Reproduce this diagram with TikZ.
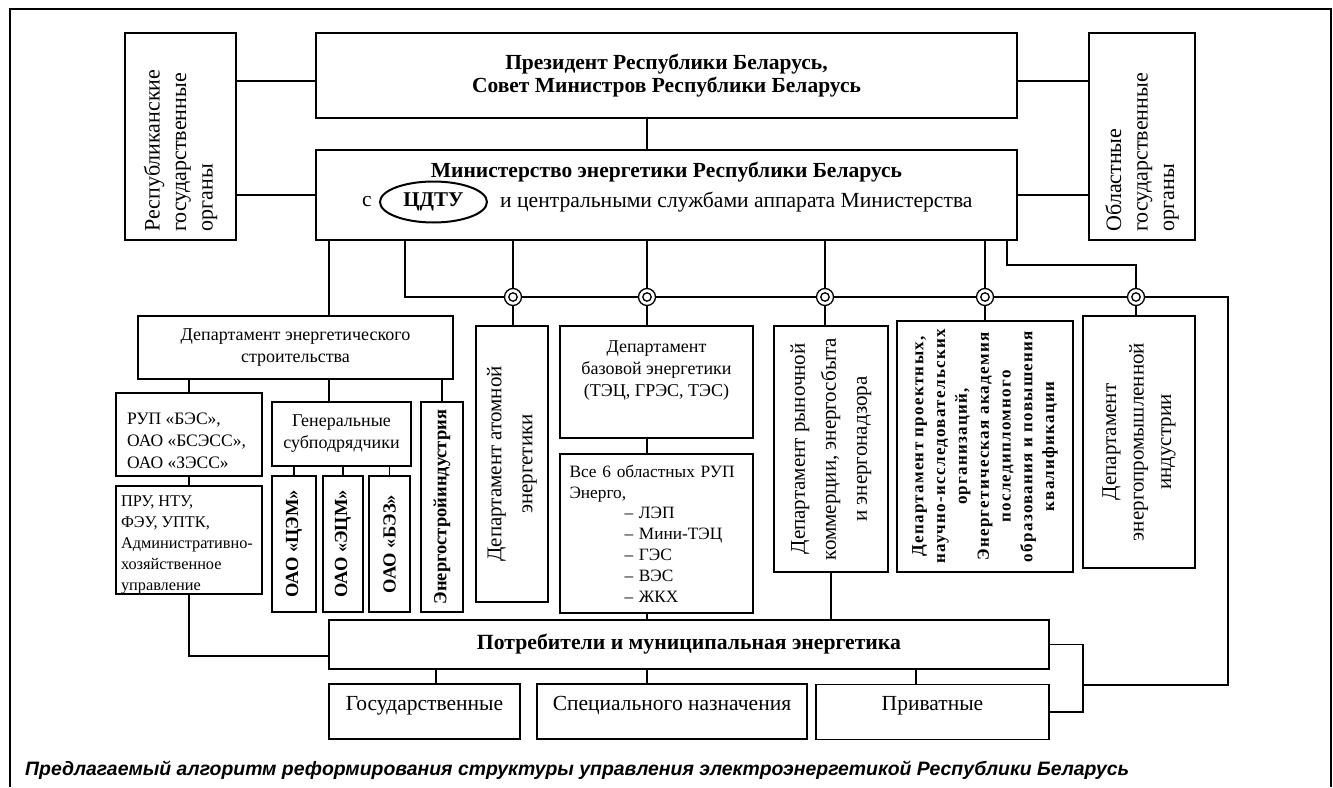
\documentclass[tikz,border=0pt]{standalone}
\usepackage{fontspec}
\setmainfont{Liberation Serif}
\newfontfamily\capfont{Liberation Sans}
\usetikzlibrary{positioning, shapes.geometric}

\begin{document}
\begin{tikzpicture}[
    x=1pt, y=-1pt,
    box/.style={rectangle, draw, line width=1.1pt, inner sep=0pt, align=center, font=\fontsize{18}{22}\selectfont},
    vbox/.style={box, rotate=90, font=\fontsize{21}{31}\selectfont},
    bvbox/.style={box, rotate=90, font=\fontsize{18.5}{22}\selectfont\bfseries},
    joint/.style={circle, draw, line width=1.3pt, fill=white, inner sep=0pt, minimum size=17pt,
      path picture={\draw[line width=1.3pt] (path picture bounding box.center) circle (4.2pt);}},
    line/.style={line width=1.1pt}
  ]
    \useasboundingbox (0,0) rectangle (1333,787);
    \draw[line] (10,787) -- (10,9) -- (1331,9) -- (1331,787);

    % Top level
    \node[box, minimum width=701, minimum height=85, font=\fontsize{21.5}{23.5}\selectfont\bfseries] (pres) at (666.5,75.5) {Президент Республики Беларусь,\\Совет Министров Республики Беларусь};
    \node[vbox, minimum width=207, minimum height=111, text width=190, align=left, font=\fontsize{22}{26.5}\selectfont] (respub) at (180.5,136.5) {Республиканские\\государственные\\органы};
    \node[vbox, minimum width=207, minimum height=106, text width=190, align=left, font=\fontsize{22}{26.5}\selectfont] (oblorg) at (1142,136.5) {Областные\\государственные\\органы};

    % Ministry
    \node[box, minimum width=701, minimum height=90, text height=14pt, text depth=50pt, font=\fontsize{21.5}{24}\selectfont\bfseries] (ministry) at (666.5,195) {Министерство энергетики Республики Беларусь};
    \node[inner sep=0pt, font=\fontsize{21.5}{24}\selectfont] (withc) at (367,202) {с};
    \node[ellipse, draw, line width=2pt, minimum width=107, minimum height=41, inner sep=0pt, right=7pt of withc, font=\fontsize{21}{24}\selectfont\bfseries] (cdtu) {ЦДТУ};
    \node[inner sep=0pt, right=12pt of cdtu, font=\fontsize{21.6}{24}\selectfont] (services) {и центральными службами аппарата Министерства};

    % Bus
    \coordinate (busL) at (405,297);
    \coordinate (busR) at (1228,297);
    \coordinate (elbow) at (1007,265);
    \coordinate (stem) at (329,316);
    \coordinate (tie) at (1083,685);
    \node[joint] (j1) at (513,297) {};
    \node[joint] (j2) at (647,297) {};
    \node[joint] (j3) at (825,297) {};
    \node[joint] (j4) at (985,297) {};
    \node[joint] (j5) at (1136,297) {};

    % Construction branch
    \node[box, minimum width=315, minimum height=63] (dec) at (295.5,347.5) {Департамент энергетического\\строительства};
    \node[box, minimum width=146, minimum height=83, font=\fontsize{17.5}{22}\selectfont] (rup) at (189,434.5) {\parbox[c][83pt][c]{124pt}{\raggedright\vspace{12pt}РУП «БЭС»,\\ОАО «БСЭСС»,\\ОАО «ЗЭСС»}};
    \node[box, minimum width=146, minimum height=108, font=\fontsize{16.3}{21}\selectfont] (pru) at (189,540) {\parbox[c][108pt][c]{136pt}{\raggedright\vspace{10pt}ПРУ, НТУ,\\ФЭУ, УПТК,\\Административно-\\хозяйственное\\управление}};
    \node[box, minimum width=139, minimum height=64] (gen) at (341.5,434) {Генеральные\\субподрядчики};
    \node[bvbox, minimum width=136, minimum height=44] (cem) at (294,544) {ОАО «ЦЭМ»};
    \node[bvbox, minimum width=136, minimum height=40] (ecm) at (343,544) {ОАО «ЭЦМ»};
    \node[bvbox, minimum width=136, minimum height=41] (bez) at (389.5,544) {ОАО «БЭЗ»};
    \node[bvbox, minimum width=210, minimum height=42] (esi) at (442,507) {Энергостройиндустрия};

    % Departments
    \node[vbox, minimum width=276, minimum height=72] (atom) at (512,464) {Департамент атомной\\энергетики};
    \node[box, minimum width=193, minimum height=112] (base) at (656.5,382) {\parbox[c][112pt][t]{193pt}{\centering\vspace{15pt}Департамент\\базовой энергетики\\(ТЭЦ, ГРЭС, ТЭС)}};
    \node[box, minimum width=193, minimum height=159, text width=174, align=left, font=\fontsize{17.3}{20.8}\selectfont] (oblast) at (656.5,533.5) {Все 6 областных РУП\\Энерго,\\\hspace*{55pt}– ЛЭП\\\hspace*{55pt}– Мини-ТЭЦ\\\hspace*{55pt}– ГЭС\\\hspace*{55pt}– ВЭС\\\hspace*{55pt}– ЖКХ};
    \node[vbox, minimum width=246, minimum height=114] (market) at (831,449) {Департамент рыночной\\коммерции, энергосбыта\\и энергонадзора};
    \node[bvbox, minimum width=251, minimum height=176, font=\fontsize{17}{21.8}\selectfont\bfseries\addfontfeatures{LetterSpace=7.5}] (proj) at (985,446.5) {Департамент проектных,\\научно-исследовательских\\организаций,\\Энергетическая академия\\последипломного\\образования и повышения\\квалификации};
    \node[vbox, minimum width=252, minimum height=112, font=\fontsize{21}{27.5}\selectfont] (indus) at (1139,442) {Департамент\\энергопромышленной\\индустрии};

    % Consumers
    \node[box, minimum width=720, minimum height=49, font=\fontsize{21.7}{25}\selectfont\bfseries] (cons) at (689,644.5) {Потребители и муниципальная энергетика};
    \node[box, minimum width=191, minimum height=55, text height=15pt, text depth=18pt, font=\fontsize{21.5}{25}\selectfont] (gos) at (424.5,711.5) {Государственные};
    \node[box, minimum width=270, minimum height=55, text height=15pt, text depth=18pt, font=\fontsize{21.5}{25}\selectfont] (spec) at (672,711.5) {Специального назначения};
    \node[box, minimum width=233, minimum height=55, text height=15pt, text depth=18pt, font=\fontsize{21.5}{25}\selectfont] (priv) at (932.5,712) {Приватные};

    % Caption
    \node[anchor=west, inner sep=0pt, font=\capfont\fontsize{19.4}{22}\selectfont\bfseries\itshape] (caption) at (25,770) {Предлагаемый алгоритм реформирования структуры управления электроэнергетикой Республики Беларусь};

    % Lines
    \draw[line] ([yshift=-5.5pt]pres.west) -- ([yshift=-5.5pt]respub.south |- pres.west);
    \draw[line] ([yshift=-5.5pt]pres.east) -- ([yshift=-5.5pt]oblorg.north |- pres.east);
    \draw[line] (ministry.west) -- (ministry.west -| respub.south);
    \draw[line] (ministry.east) -- (ministry.east -| oblorg.north);
    \draw[line] (pres.south -| j2) -- (ministry.north -| j2);
    \draw[line] (ministry.south -| busL) -- (busL) -- (j1) -- (j2) -- (j3) -- (j4) -- (j5) -- (busR) |- (tie);
    \foreach \j in {j1,j2,j3,j4}
      \draw[line] (ministry.south -| \j) -- (\j);
    \draw[line] (ministry.south -| elbow) -- (elbow) -| (j5);
    \draw[line] (j1) -- (j1 |- atom.east);
    \draw[line] (j2) -- (j2 |- base.north);
    \draw[line] (j3) -- (j3 |- market.east);
    \draw[line] (j4) -- (j4 |- proj.east);
    \draw[line] (j5) -- (j5 |- indus.east);
    \draw[line] (ministry.south -| stem) -- (stem);
    \draw[line] (dec.south -| rup.north) -- (rup.north);
    \draw[line] (dec.south -| stem) -- (gen.north -| stem);
    \draw[line] (dec.south -| esi.east) -- (esi.east);
    \draw[line] (rup) -- (pru);
    \foreach \o in {cem,ecm,bez}
      \draw[line] (gen.south -| \o.east) -- (\o.east);
    \draw[line width=1.6pt] (pru.south) |- ([yshift=-11.5pt]cons.west);
    \draw[line] (base.south -| j2) -- (oblast.north -| j2);
    \draw[line] (oblast.south -| j2) -- (cons.north -| j2);
    \draw[line] (market.west) -- (market.west |- cons.north);
    \draw[line] (cons.south -| j2) -- (spec.north -| j2);
    \draw[line] ([xshift=11.5pt]gos.north) -- ([xshift=11.5pt]gos.north |- cons.south);
    \draw[line] ([xshift=-16.5pt]priv.north) -- ([xshift=-16.5pt]priv.north |- cons.south);
    \draw[line] (cons.east) -| (tie) |- (priv.east);
\end{tikzpicture}
\end{document}
